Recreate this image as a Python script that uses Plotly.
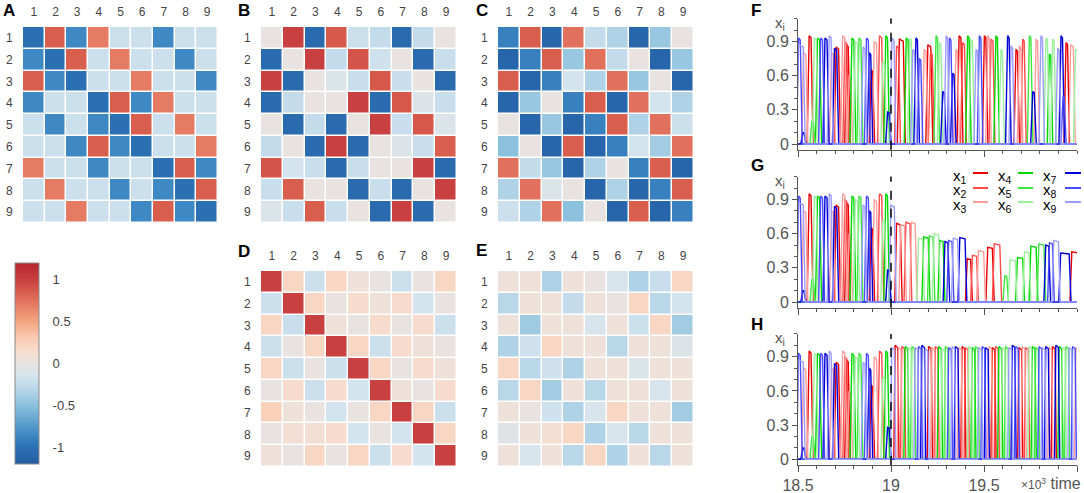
import plotly.graph_objects as go

W, H = 1084, 493

# ---------------- data ----------------
IDX = [1, 2, 3, 4, 5, 6, 7, 8, 9]
TICK_LABELS = ["1", "2", "3", "4", "5", "6", "7", "8", "9"]

MATRIX_A = [
    [-1.0, 0.85, -0.85, 0.7, -0.2, -0.2, -0.85, -0.2, -0.2],
    [-0.85, -1.0, 0.85, -0.2, 0.7, -0.2, -0.2, -0.85, -0.2],
    [0.85, -0.85, -1.0, -0.2, -0.2, 0.7, -0.2, -0.2, -0.85],
    [-0.85, -0.2, -0.2, -1.0, 0.85, -0.85, 0.7, -0.2, -0.2],
    [-0.2, -0.85, -0.2, -0.85, -1.0, 0.85, -0.2, 0.7, -0.2],
    [-0.2, -0.2, -0.85, 0.85, -0.85, -1.0, -0.2, -0.2, 0.7],
    [0.7, -0.2, -0.2, -0.85, -0.2, -0.2, -1.0, 0.85, -0.85],
    [-0.2, 0.7, -0.2, -0.2, -0.85, -0.2, -0.85, -1.0, 0.85],
    [-0.2, -0.2, 0.7, -0.2, -0.2, -0.85, 0.85, -0.85, -1.0],
]
MATRIX_B = [
    [0, 1.0, -1.05, 0.87, -0.2, -0.25, -1.05, -0.25, 0],
    [-1.05, 0, 1.0, -0.25, 0.9, -0.18, 0, -1.05, -0.22],
    [1.0, -1.05, 0, -0.1, -0.22, 0.88, -0.22, 0, -1.05],
    [-1.05, -0.25, 0, 0, 1.0, -1.05, 0.88, -0.08, -0.22],
    [0, -1.05, -0.25, -1.05, 0, 1.0, -0.22, 0.88, -0.1],
    [-0.25, 0, -1.05, 1.0, -1.05, 0, -0.08, -0.22, 0.85],
    [0.9, -0.15, -0.22, -1.05, -0.22, 0, 0, 1.0, -1.05],
    [-0.22, 0.85, 0, 0, -1.05, -0.22, -1.05, 0, 1.0],
    [-0.1, -0.22, 0.85, -0.22, 0, -1.05, 1.0, -1.05, 0],
]
MATRIX_C = [
    [-0.9, 0.85, -1.1, 0.75, -0.25, -0.35, -1.1, -0.45, 0],
    [-1.1, -0.9, 0.85, -0.45, 0.75, -0.25, 0, -1.1, -0.45],
    [0.85, -1.1, -0.9, -0.15, -0.35, 0.75, -0.45, 0, -1.1],
    [-1.1, -0.45, 0, -0.9, 0.85, -1.1, 0.75, -0.15, -0.35],
    [0, -1.1, -0.45, -1.1, -0.9, 0.85, -0.35, 0.75, -0.2],
    [-0.5, 0, -1.1, 0.85, -1.1, -0.9, -0.15, -0.4, 0.75],
    [0.75, -0.25, -0.45, -1.1, -0.35, 0, -0.9, 0.85, -1.1],
    [-0.35, 0.75, -0.1, 0, -1.1, -0.35, -1.1, -0.9, 0.85],
    [-0.2, -0.35, 0.75, -0.5, 0, -1.1, 0.85, -1.1, -0.9],
]
MATRIX_D = [
    [1.0, 0.2, -0.2, 0.2, 0.05, 0, -0.2, 0, 0.2],
    [-0.2, 1.0, 0.2, 0, 0.15, 0.05, 0.15, -0.15, 0],
    [0.2, -0.22, 1.0, 0.05, 0, 0.15, 0, 0.15, -0.2],
    [-0.2, 0, 0.2, 1.0, 0.2, -0.2, 0.15, 0.05, 0],
    [0.2, -0.2, 0, -0.2, 1.0, 0.2, 0, 0.15, 0.05],
    [0, 0.15, -0.2, 0.15, -0.15, 1.0, 0.05, 0, 0.15],
    [0.25, 0.05, 0, -0.15, 0, 0.2, 1.0, 0.2, -0.2],
    [0, 0.1, 0.1, 0.15, -0.15, 0, -0.15, 1.0, 0.2],
    [0.05, 0, 0.2, 0, 0.2, -0.2, 0.15, -0.15, 1.0],
]
MATRIX_E = [
    [0.05, 0.05, -0.35, 0.05, 0, -0.12, -0.35, -0.22, 0.2],
    [-0.3, 0.05, 0.05, -0.25, 0.05, 0, 0.2, -0.3, -0.15],
    [0.05, -0.42, 0.05, 0.05, -0.12, 0.05, -0.2, 0.2, -0.4],
    [-0.35, -0.18, 0.2, 0.05, 0.05, -0.3, 0.05, 0.05, -0.08],
    [0.2, -0.3, -0.18, -0.35, 0.05, 0.05, -0.1, 0.05, 0.05],
    [-0.3, 0.2, -0.4, 0.05, -0.3, 0.05, 0.05, -0.12, 0.05],
    [0.05, 0, -0.18, -0.35, -0.12, 0.2, 0.05, 0.05, -0.4],
    [-0.06, 0.05, 0.12, 0.2, -0.35, -0.12, -0.3, 0.05, 0.05],
    [0.05, -0.12, 0.05, -0.3, 0.2, -0.35, 0.05, -0.3, 0.05],
]
COLORBAR_TICKS = [-1, -0.5, 0, 0.5, 1]
COLORBAR_TEXT = ["-1", "-0.5", "0", "0.5", "1"]

# pulses: (variable, on time, off time, peak)   time in 10^3 units
PULSES_PRE = [
    (9, 18.500, 18.528, 0.87), (8, 18.503, 18.512, 0.93), (7, 18.526, 18.532, 0.10),
    (3, 18.530, 18.542, 0.80), (1, 18.560, 18.570, 0.95), (5, 18.575, 18.582, 0.20),
    (6, 18.588, 18.598, 0.93), (4, 18.605, 18.616, 0.93), (8, 18.622, 18.632, 0.93),
    (7, 18.645, 18.656, 0.93), (9, 18.668, 18.678, 0.95), (3, 18.680, 18.690, 0.80),
    (7, 18.696, 18.708, 0.84), (1, 18.705, 18.718, 0.85), (3, 18.740, 18.752, 0.95),
    (2, 18.752, 18.762, 0.90), (1, 18.762, 18.770, 0.87), (3, 18.775, 18.783, 0.60),
    (4, 18.790, 18.800, 0.93), (6, 18.808, 18.820, 0.90), (5, 18.828, 18.838, 0.93),
    (9, 18.850, 18.860, 0.85), (8, 18.868, 18.878, 0.93), (7, 18.883, 18.891, 0.80),
    (1, 18.894, 18.901, 0.65), (3, 18.910, 18.922, 0.90), (2, 18.938, 18.950, 0.95),
    (6, 18.956, 18.966, 0.72), (4, 18.972, 18.981, 0.95), (7, 18.982, 18.990, 0.28),
]
PULSES_F_POST = [
    (9, 19.005, 19.016, 0.93), (2, 19.030, 19.040, 0.86), (1, 19.045, 19.066, 0.92),
    (4, 19.082, 19.092, 0.93), (6, 19.100, 19.108, 0.93), (9, 19.117, 19.126, 0.83),
    (7, 19.134, 19.142, 0.93), (8, 19.152, 19.160, 0.75), (3, 19.178, 19.188, 0.83),
    (1, 19.198, 19.214, 0.87), (2, 19.212, 19.222, 0.80), (5, 19.242, 19.250, 0.95),
    (6, 19.260, 19.268, 0.89), (7, 19.278, 19.286, 0.46), (9, 19.296, 19.304, 0.95),
    (8, 19.314, 19.322, 0.93), (7, 19.331, 19.339, 0.62), (3, 19.349, 19.357, 0.83),
    (1, 19.366, 19.376, 0.95), (2, 19.385, 19.395, 0.89), (4, 19.412, 19.420, 0.95),
    (6, 19.430, 19.438, 0.92), (9, 19.457, 19.465, 0.83), (8, 19.475, 19.483, 0.95),
    (1, 19.502, 19.510, 0.95), (3, 19.520, 19.528, 0.95), (2, 19.538, 19.548, 0.92),
    (4, 19.564, 19.572, 0.95), (6, 19.591, 19.599, 0.83), (7, 19.627, 19.635, 0.95),
    (9, 19.645, 19.653, 0.86), (1, 19.672, 19.680, 0.83), (3, 19.690, 19.698, 0.86),
    (2, 19.708, 19.716, 0.92), (5, 19.744, 19.752, 0.95), (7, 19.762, 19.770, 0.46),
    (3, 19.780, 19.788, 0.92), (9, 19.806, 19.814, 0.95), (6, 19.833, 19.841, 0.93),
    (4, 19.851, 19.859, 0.79), (6, 19.869, 19.877, 0.92), (9, 19.896, 19.904, 0.84),
    (7, 19.914, 19.922, 0.95), (8, 19.925, 19.931, 0.42), (1, 19.941, 19.949, 0.89),
    (3, 19.966, 19.980, 0.87), (6, 19.992, 20.004, 0.83),
]
PULSES_G_POST = [
    (9, 18.999, 19.018, 0.85), (1, 19.030, 19.050, 0.69), (3, 19.052, 19.072, 0.68),
    (2, 19.080, 19.102, 0.70), (3, 19.110, 19.130, 0.70), (6, 19.148, 19.170, 0.56),
    (4, 19.176, 19.200, 0.57), (5, 19.206, 19.226, 0.58), (6, 19.232, 19.256, 0.60),
    (4, 19.262, 19.280, 0.54), (7, 19.290, 19.306, 0.53), (8, 19.310, 19.328, 0.54),
    (9, 19.335, 19.358, 0.56), (7, 19.370, 19.398, 0.565), (1, 19.410, 19.428, 0.38),
    (2, 19.438, 19.460, 0.41), (3, 19.470, 19.498, 0.45), (1, 19.520, 19.545, 0.48),
    (2, 19.555, 19.585, 0.51), (5, 19.612, 19.622, 0.23), (6, 19.640, 19.668, 0.37),
    (4, 19.680, 19.708, 0.39), (6, 19.718, 19.742, 0.44), (4, 19.752, 19.780, 0.49),
    (5, 19.795, 19.822, 0.51), (7, 19.832, 19.848, 0.50), (8, 19.852, 19.868, 0.52),
    (9, 19.875, 19.900, 0.54), (7, 19.912, 19.958, 0.43), (1, 19.972, 20.004, 0.44),
]
PULSES_H_POST = [
    (9, 19.004, 19.018, 0.98), (1, 19.022, 19.036, 1.00), (3, 19.040, 19.054, 0.98),
    (2, 19.058, 19.072, 0.99), (4, 19.076, 19.090, 0.99), (6, 19.094, 19.108, 0.98),
    (5, 19.112, 19.126, 0.99), (9, 19.130, 19.144, 0.98), (8, 19.148, 19.162, 0.99),
    (7, 19.166, 19.180, 1.00), (9, 19.184, 19.198, 0.97), (1, 19.202, 19.216, 0.99),
    (3, 19.220, 19.234, 0.98), (2, 19.238, 19.252, 0.99), (4, 19.256, 19.270, 0.99),
    (6, 19.274, 19.288, 0.97), (5, 19.292, 19.306, 0.99), (8, 19.310, 19.324, 0.98),
    (9, 19.328, 19.342, 0.99), (7, 19.346, 19.360, 0.99), (3, 19.364, 19.378, 0.98),
    (1, 19.382, 19.396, 0.99), (2, 19.400, 19.414, 0.98), (6, 19.418, 19.432, 0.99),
    (4, 19.436, 19.450, 0.98), (5, 19.454, 19.468, 0.99), (9, 19.472, 19.486, 0.98),
    (8, 19.490, 19.504, 0.99), (7, 19.508, 19.522, 0.98), (3, 19.526, 19.540, 0.99),
    (1, 19.544, 19.558, 0.98), (2, 19.562, 19.576, 0.99), (4, 19.580, 19.594, 0.99),
    (6, 19.598, 19.612, 0.98), (5, 19.616, 19.630, 0.99), (9, 19.634, 19.648, 0.98),
    (7, 19.652, 19.666, 1.00), (8, 19.670, 19.684, 0.99), (1, 19.688, 19.702, 0.98),
    (3, 19.706, 19.720, 0.99), (2, 19.724, 19.738, 0.98), (6, 19.742, 19.756, 0.99),
    (4, 19.760, 19.774, 0.99), (5, 19.778, 19.792, 0.98), (8, 19.796, 19.810, 0.99),
    (9, 19.814, 19.828, 0.98), (7, 19.832, 19.846, 0.99), (3, 19.850, 19.864, 0.98),
    (1, 19.868, 19.882, 0.99), (7, 19.886, 19.900, 1.00), (4, 19.904, 19.918, 0.99),
    (6, 19.922, 19.936, 0.98), (5, 19.940, 19.954, 0.99), (9, 19.958, 19.972, 0.98),
    (8, 19.976, 19.990, 0.99), (3, 19.994, 20.008, 0.98),
]
VAR_NAMES = ["x<sub>%d</sub>" % i for i in IDX]
X_TICKS = [18.5, 19, 19.5, 20]
X_TICK_TEXT = ["18.5", "19", "19.5", ""]
SWITCH_TIME = 19

# ---------------- style ----------------
VAR_COLORS = {1: "#e80000", 2: "#ff4a4a", 3: "#ff9c9c",
              4: "#00d800", 5: "#3fe63f", 6: "#9cef9c",
              7: "#0000d8", 8: "#4a4aff", 9: "#9c9cff"}
CMIN, CMAX = -1.2, 1.2
STOPS = [(-1.2, "rgb(36,92,162)"), (-1.0, "rgb(44,112,180)"), (-0.85, "rgb(62,137,195)"),
         (-0.5, "rgb(140,193,222)"), (-0.3, "rgb(186,215,233)"), (-0.15, "rgb(212,228,238)"),
         (0.0, "rgb(232,227,224)"), (0.15, "rgb(247,220,205)"), (0.3, "rgb(250,203,178)"),
         (0.5, "rgb(244,165,130)"), (0.7, "rgb(230,123,100)"), (0.85, "rgb(216,94,78)"),
         (1.0, "rgb(200,64,64)"), (1.2, "rgb(182,38,48)")]
COLORSCALE = [[(v - CMIN) / (CMAX - CMIN), c] for v, c in STOPS]


def px(x):
    return x / W


def py(y):
    return 1 - y / H


fig = go.Figure()
layout = dict(width=W, height=H, template="none",
              margin=dict(l=0, r=0, t=0, b=0, pad=0, autoexpand=False),
              paper_bgcolor="white", plot_bgcolor="white", showlegend=False,
              font=dict(family="Liberation Sans, Arial, sans-serif", color="#444"))

# heatmap panels: (matrix, x0, x1, y0, y1) in pixels
HM_PANELS = [
    (MATRIX_A, 23, 218, 27, 223),
    (MATRIX_B, 261, 457, 27, 223),
    (MATRIX_C, 498, 694, 27, 223),
    (MATRIX_D, 261, 457, 271, 467),
    (MATRIX_E, 498, 694, 271, 467),
]
for i, (m, x0, x1, y0, y1) in enumerate(HM_PANELS, start=1):
    fig.add_trace(go.Heatmap(z=m, x=IDX, y=IDX, coloraxis="coloraxis",
                             xgap=1.5, ygap=1.5, hoverinfo="skip",
                             xaxis="x%d" % i, yaxis="y%d" % i))
    layout["xaxis%d" % i] = dict(domain=[px(x0), px(x1)], range=[0.5, 9.5], side="top",
                                 tickvals=IDX, ticktext=TICK_LABELS, ticks="outside",
                                 ticklen=5, tickcolor="rgba(0,0,0,0)", showgrid=False,
                                 zeroline=False, showline=False, anchor="y%d" % i,
                                 automargin=False,
                                 tickfont=dict(size=12, color="#444"), fixedrange=True)
    layout["yaxis%d" % i] = dict(domain=[py(y1), py(y0)], range=[9.5, 0.5],
                                 tickvals=IDX, ticktext=TICK_LABELS, ticks="outside",
                                 ticklen=7, tickcolor="rgba(0,0,0,0)", showgrid=False,
                                 zeroline=False, showline=False, anchor="x%d" % i,
                                 automargin=False,
                                 tickfont=dict(size=12, color="#444"), fixedrange=True)

CB_X0, CB_X1, CB_Y0, CB_Y1 = 15, 39, 263, 464
layout["coloraxis"] = dict(
    colorscale=COLORSCALE, cmin=CMIN, cmax=CMAX,
    colorbar=dict(x=px(CB_X0), xanchor="left", xref="paper", y=py(CB_Y1), yanchor="bottom",
                  yref="paper", len=(CB_Y1 - CB_Y0) / H, lenmode="fraction",
                  thickness=CB_X1 - CB_X0, thicknessmode="pixels", xpad=0, ypad=0,
                  outlinewidth=1, outlinecolor="#8a8a8a",
                  tickvals=COLORBAR_TICKS, ticktext=COLORBAR_TEXT, ticks="outside",
                  ticklen=11, tickcolor="rgba(0,0,0,0)",
                  tickfont=dict(size=13, color="#444")))

shapes = []
annotations = []
# colorbar tick dashes
for v in COLORBAR_TICKS:
    yy = py(CB_Y1) + (v - CMIN) / (CMAX - CMIN) * (CB_Y1 - CB_Y0) / H
    for a, b in ((CB_X0, CB_X0 + 8), (CB_X1 - 8, CB_X1)):
        shapes.append(dict(type="line", xref="paper", yref="paper", x0=px(a), x1=px(b),
                           y0=yy, y1=yy, line=dict(color="#666", width=1.5)))


# time-series panels: each pulse becomes a trapezoid (ramp up, plateau, ramp down)
def build(pulses, var):
    xs, ys = [18.49], [0.0]
    for v, t0, t1, p, r in sorted([q for q in pulses if q[0] == var], key=lambda q: q[1]):
        start = max(t0 - r, xs[-1])
        xs += [start, t0, t1, t1 + r]
        ys += [0.0, p, p * 0.98, 0.0]
    xs.append(max(20.01, xs[-1]))
    ys.append(0.0)
    return xs, ys


def with_ramp(lst, r):
    return [(v, t0, t1, p, r) for v, t0, t1, p in lst]


TS_PANELS = [
    (with_ramp(PULSES_PRE, 0.011) + with_ramp(PULSES_F_POST, 0.011), 18.6, 149.7, False),
    (with_ramp(PULSES_PRE, 0.011) + with_ramp(PULSES_G_POST, 0.010), 176.6, 307.7, False),
    (with_ramp(PULSES_PRE, 0.011) + with_ramp(PULSES_H_POST, 0.007), 333.9, 465.0, True),
]
TS_X0, TS_X1 = 798, 1077
for k, (pulses, y0, y1, labels) in enumerate(TS_PANELS, start=6):
    for v in IDX:
        xs, ys = build(pulses, v)
        fig.add_trace(go.Scatter(x=xs, y=ys, mode="lines", hoverinfo="skip",
                                 line=dict(color=VAR_COLORS[v], width=1.4),
                                 xaxis="x%d" % k, yaxis="y%d" % k))
    layout["xaxis%d" % k] = dict(domain=[px(TS_X0), px(TS_X1)], range=[18.5, 20.0],
                                 anchor="y%d" % k, showline=True, linecolor="#555",
                                 linewidth=1, ticks="outside", ticklen=6, tickcolor="#555",
                                 tickmode="array", tickvals=X_TICKS, ticktext=X_TICK_TEXT,
                                 showticklabels=labels, showgrid=False, zeroline=False,
                                 automargin=False,
                                 minor=dict(ticks="outside", ticklen=3, dtick=0.1,
                                            tick0=18.5, tickcolor="#555"),
                                 tickfont=dict(size=16, color="#555"))
    layout["yaxis%d" % k] = dict(domain=[py(y1), py(y0)], range=[-0.05, 1.1],
                                 anchor="x%d" % k, showline=True, linecolor="#555",
                                 linewidth=1, ticks="outside", ticklen=5, tickcolor="#555",
                                 tick0=0, dtick=0.3, showgrid=False, zeroline=False,
                                 automargin=False,
                                 minor=dict(ticks="outside", ticklen=3, dtick=0.1, tick0=0,
                                            tickcolor="#555"),
                                 tickfont=dict(size=16, color="#555"))
    shapes.append(dict(type="line", xref="x%d" % k, yref="y%d domain" % k,
                       x0=SWITCH_TIME, x1=SWITCH_TIME, y0=0, y1=1, layer="above",
                       line=dict(color="#111", width=1.6, dash="dash")))
    annotations.append(dict(text="x<sub>i</sub>", xref="paper", yref="paper",
                            x=px(780), y=py(y0 + 5), xanchor="center", yanchor="middle",
                            showarrow=False, font=dict(size=15, color="#555")))

# panel letters
for letter, x, y in [("A", 9, 11), ("B", 244, 10), ("C", 482, 11), ("D", 244, 251),
                     ("E", 482, 250), ("F", 756, 11), ("G", 757, 166), ("H", 757, 324)]:
    annotations.append(dict(text="<b>%s</b>" % letter, xref="paper", yref="paper",
                            x=px(x), y=py(y), xanchor="center", yanchor="middle",
                            showarrow=False,
                            font=dict(size=17, color="#000",
                                      family="Liberation Sans, Arial, sans-serif")))

# legend in panel G (text then line sample, three columns)
LEG_COLS = [(960, 973, 988), (1005, 1018, 1033), (1050, 1065, 1081)]
LEG_ROWS = [175, 190, 204]
for n, v in enumerate(IDX):
    col, row = n // 3, n % 3
    tx, l0, l1 = LEG_COLS[col]
    yy = LEG_ROWS[row]
    annotations.append(dict(text=VAR_NAMES[n], xref="paper", yref="paper", x=px(tx),
                            y=py(yy + 1), xanchor="center", yanchor="middle",
                            showarrow=False, font=dict(size=15, color="#000")))
    shapes.append(dict(type="line", xref="paper", yref="paper", x0=px(l0), x1=px(l1),
                       y0=py(yy - 2), y1=py(yy - 2),
                       line=dict(color=VAR_COLORS[v], width=2)))

annotations.append(dict(text="<span style='font-size:12px'>×10<sup>3</sup></span> time",
                        xref="paper", yref="paper", x=px(1083), y=py(483), xanchor="right",
                        yanchor="middle", showarrow=False, font=dict(size=16, color="#555")))

layout["shapes"] = shapes
layout["annotations"] = annotations
fig.update_layout(**layout)
fig.write_html("out.html", config={"displayModeBar": False},
               post_script="document.body.style.margin='0';"
                           "document.body.style.overflow='hidden';")
